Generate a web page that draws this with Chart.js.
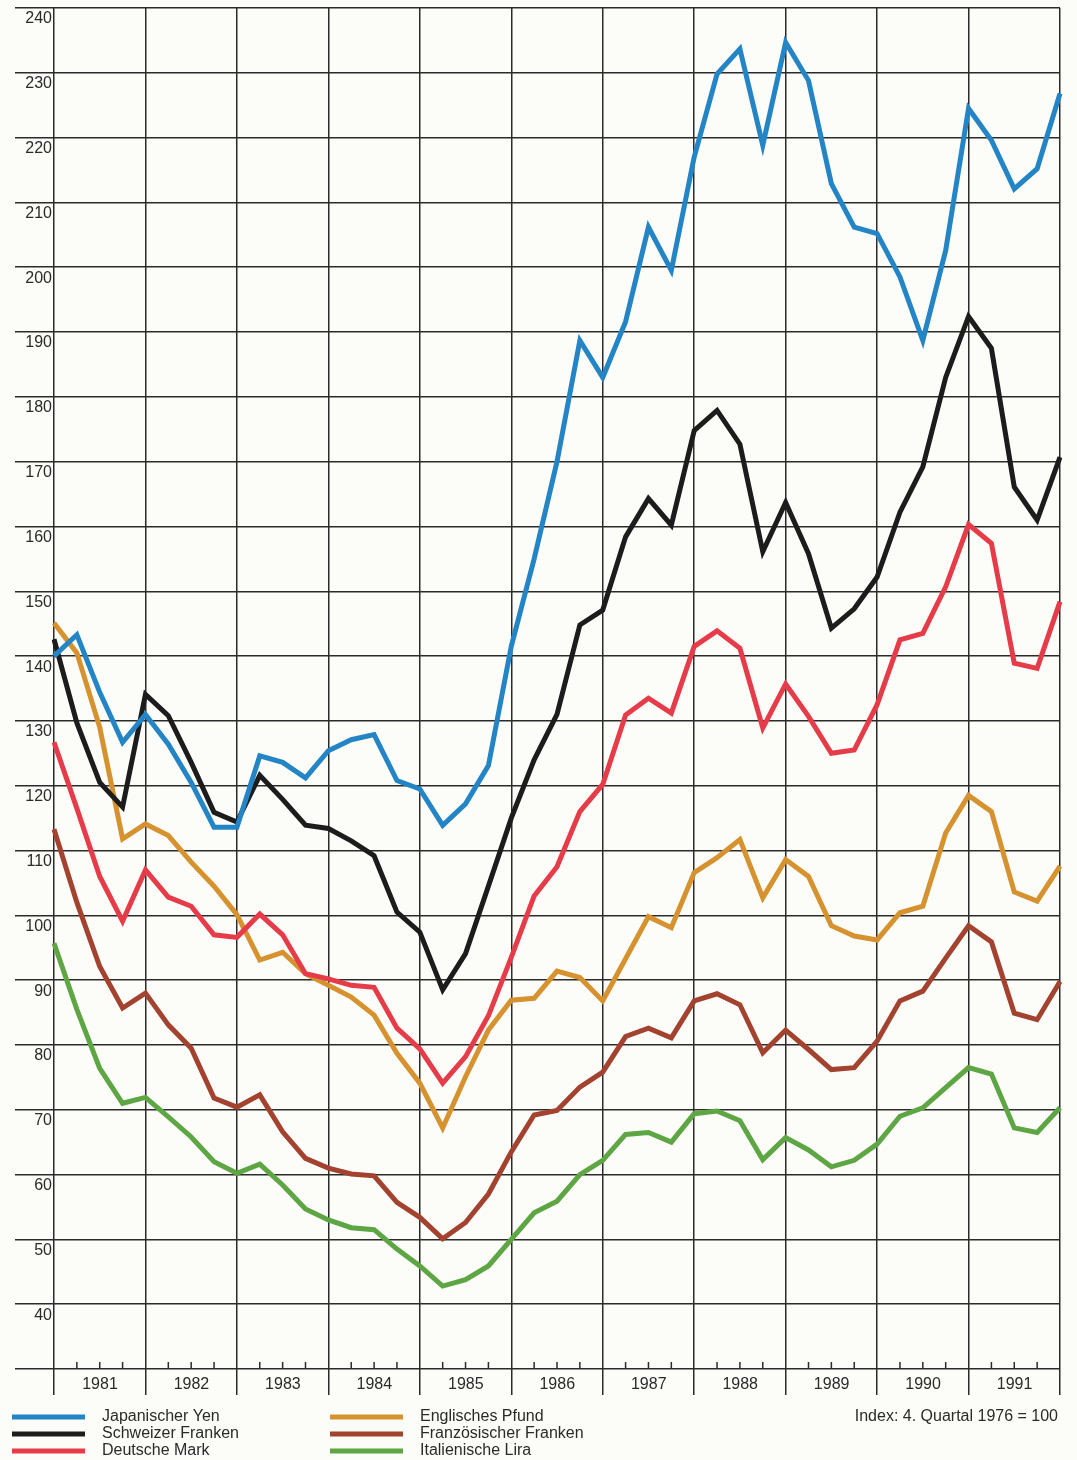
<!DOCTYPE html>
<html>
<head>
<meta charset="utf-8">
<script src="https://cdn.jsdelivr.net/npm/chart.js@4/dist/chart.umd.min.js"></script>
<style>
  body { margin: 0; background: #fcfcf8; }
  canvas { display: block; }
</style>
</head>
<body>
<canvas id="wechselkurse" width="1077" height="1460"></canvas>
<script>
// --- DONNEES ---
const years = ["1981", "1982", "1983", "1984", "1985", "1986", "1987", "1988", "1989", "1990", "1991"];
const quarterLabels = years.flatMap(y => ["I", "II", "III", "IV"].map(q => q + "/" + y)).concat(["I/1992"]);

const yen     = [140, 143.3, 134.4, 126.7, 131, 126.4, 120.5, 113.6, 113.6, 124.6, 123.6, 121.2, 125.4, 127.1, 127.9, 120.8, 119.5, 113.9, 117.2, 123.1, 141.5, 155, 170, 188.7, 183, 191.6, 206.2, 199.5, 217, 229.8, 233.7, 218.8, 234.7, 228.8, 212.9, 206.2, 205.2, 198.5, 188.7, 202.6, 224.5, 219.6, 212.1, 215.2, 226.8];
const franken = [142.6, 129.7, 120.5, 116.7, 134.1, 130.8, 123.6, 115.9, 114.4, 121.6, 117.9, 113.9, 113.4, 111.5, 109.2, 100.5, 97.4, 88.5, 94.1, 104.5, 115, 124, 131, 144.8, 147.1, 158.4, 164.3, 160.2, 174.8, 177.9, 172.7, 156.1, 163.7, 155.8, 144.3, 147.3, 152.2, 162.2, 169.2, 183, 192.4, 187.5, 166.1, 161, 170.7];
const mark    = [126.7, 116.5, 106, 99.1, 107, 102.8, 101.4, 97, 96.6, 100.2, 97, 91, 90.2, 89.2, 88.9, 82.6, 79.4, 74.1, 78.2, 84.5, 93.5, 103, 107.5, 116, 120.2, 130.9, 133.5, 131.2, 141.5, 143.9, 141.2, 128.9, 135.7, 130.7, 125, 125.5, 132.5, 142.5, 143.5, 150.7, 160.3, 157.4, 138.9, 138.1, 148.4];
const pfund   = [145.1, 140.5, 129, 111.8, 114.1, 112.3, 108.2, 104.5, 100.1, 93.1, 94.3, 91, 89.2, 87.4, 84.6, 78.7, 74.1, 67.2, 75.1, 82.3, 86.9, 87.2, 91.4, 90.4, 86.8, 93.3, 99.8, 98.1, 106.6, 108.9, 111.7, 102.7, 108.6, 106, 98.4, 96.8, 96.2, 100.4, 101.4, 112.7, 118.5, 116, 103.6, 102.2, 107.6];
const ffr     = [113.3, 102, 92.1, 85.7, 88, 83.1, 79.5, 71.8, 70.4, 72.3, 66.6, 62.5, 61, 60.1, 59.8, 55.7, 53.4, 50.1, 52.6, 57, 63.5, 69.2, 69.9, 73.5, 75.8, 81.3, 82.6, 81.1, 86.8, 87.9, 86.2, 78.8, 82.3, 79.3, 76.2, 76.5, 80.6, 86.8, 88.3, 93.4, 98.4, 95.9, 84.9, 83.9, 89.8];
const lira    = [95.7, 85.5, 76.4, 71, 71.9, 68.9, 65.8, 62, 60.2, 61.6, 58.4, 54.7, 53, 51.8, 51.5, 48.5, 45.9, 42.8, 43.8, 45.9, 50, 54.1, 55.9, 60, 62.2, 66.2, 66.5, 65, 69.4, 69.8, 68.3, 62.3, 65.7, 63.8, 61.2, 62.2, 64.7, 69, 70.3, 73.4, 76.5, 75.5, 67.2, 66.5, 70.3];

const seriesNames = ["Japanischer Yen", "Schweizer Franken", "Deutsche Mark", "Englisches Pfund", "Französischer Franken", "Italienische Lira"];
const seriesData = [yen, franken, mark, pfund, ffr, lira];
const seriesColors = ["#2384c6", "#1c1c1c", "#e63c4a", "#d6922f", "#a3422f", "#5ea644"];
const indexNote = "Index: 4. Quartal 1976 = 100";

const FONT = '"Liberation Sans", Arial, sans-serif';
const GRID = "#2b2b2b";

// --- PETITS TRAITS DES TRIMESTRES ---
const quarterTicks = {
    id: "quarterTicks",
    afterDatasetsDraw(chart) {
        const x = chart.scales.x;
        const bottom = chart.chartArea.bottom;
        const ctx = chart.ctx;
        ctx.save();
        ctx.strokeStyle = GRID;
        ctx.lineWidth = 1.5;
        for (let i = 0; i < quarterLabels.length; i++) {
            if (i % 4 === 0) continue;
            const px = x.getPixelForValue(i);
            ctx.beginPath();
            ctx.moveTo(px, bottom);
            ctx.lineTo(px, bottom - 7);
            ctx.stroke();
        }
        ctx.restore();
    }
};

// --- LEGENDE ---
const bottomLegend = {
    id: "bottomLegend",
    afterDraw(chart) {
        const ctx = chart.ctx;
        ctx.save();
        ctx.font = "16px " + FONT;
        ctx.textBaseline = "middle";
        ctx.fillStyle = "#2a2a2a";
        chart.data.datasets.forEach((ds, i) => {
            const col = Math.floor(i / 3);
            const row = i % 3;
            const x0 = col === 0 ? 12 : 330;
            const y = 1417 + row * 17;
            ctx.strokeStyle = ds.borderColor;
            ctx.lineWidth = 5;
            ctx.beginPath();
            ctx.moveTo(x0, y);
            ctx.lineTo(x0 + 73, y);
            ctx.stroke();
            ctx.fillText(ds.label, x0 + 90, y);
        });
        ctx.textAlign = "right";
        ctx.fillText(indexNote, 1058, 1417);
        ctx.restore();
    }
};

const bg = {
    id: "bg",
    beforeDraw(chart) {
        const ctx = chart.ctx;
        ctx.save();
        ctx.fillStyle = "#fcfcf8";
        ctx.fillRect(0, 0, chart.width, chart.height);
        ctx.restore();
    }
};

new Chart(document.getElementById("wechselkurse").getContext("2d"), {
    type: "line",
    data: {
        labels: quarterLabels,
        datasets: seriesNames.map((name, i) => ({
            label: name,
            data: seriesData[i],
            borderColor: seriesColors[i],
            borderWidth: 5,
            pointRadius: 0,
            tension: 0,
            borderJoinStyle: "miter",
            fill: false
        }))
    },
    options: {
        responsive: false,
        animation: false,
        layout: { padding: { top: 8, right: 17, left: 0, bottom: 61 } },
        plugins: {
            legend: { display: false },
            tooltip: { enabled: false }
        },
        scales: {
            x: {
                type: "category",
                offset: false,
                border: { display: false },
                grid: {
                    color: c => (c.index % 4 === 0 ? GRID : "rgba(0,0,0,0)"),
                    lineWidth: 1.5,
                    tickLength: 26
                },
                ticks: {
                    autoSkip: false,
                    maxRotation: 0,
                    minRotation: 0,
                    padding: -20,
                    labelOffset: 46,
                    color: "#2a2a2a",
                    font: { family: FONT, size: 16 },
                    callback: (v, i) => (i % 4 === 0 && i / 4 < years.length ? years[i / 4] : "")
                },
                afterFit(scale) { scale.height = 30; }
            },
            y: {
                min: 30,
                max: 240,
                border: { display: false },
                grid: {
                    color: GRID,
                    lineWidth: 1.5,
                    tickLength: 39
                },
                ticks: {
                    stepSize: 10,
                    padding: -37,
                    labelOffset: 11,
                    color: "#2a2a2a",
                    font: { family: FONT, size: 16 },
                    callback: v => (v === 30 ? "" : v)
                },
                afterFit(scale) { scale.width = 54; }
            }
        }
    },
    plugins: [bg, quarterTicks, bottomLegend]
});
</script>
</body>
</html>
